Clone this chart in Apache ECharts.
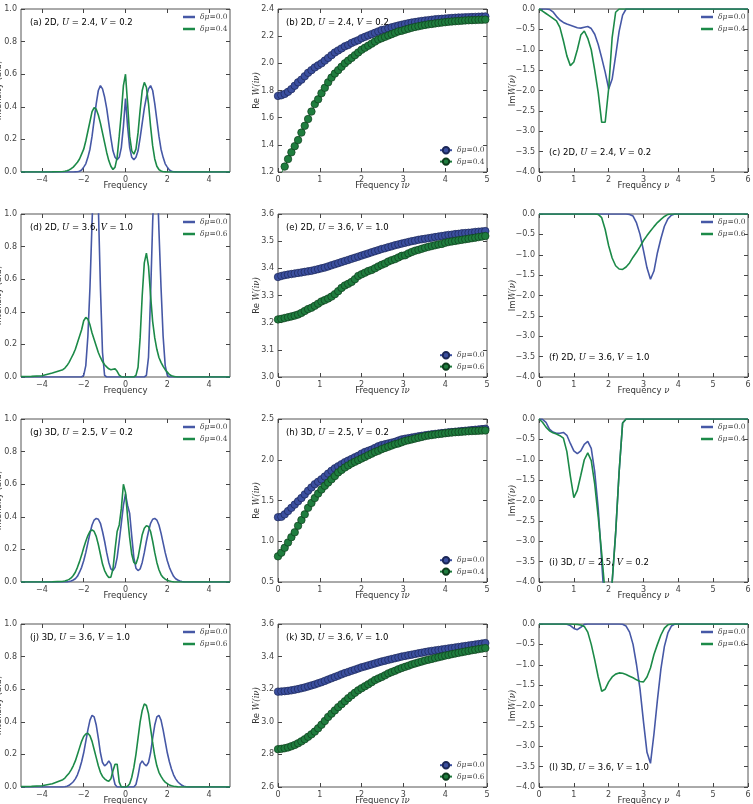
<!DOCTYPE html>
<html>
<head>
<meta charset="utf-8">
<script src="https://cdn.jsdelivr.net/npm/echarts@6/dist/echarts.min.js"></script>
<style>
  html, body { margin: 0; padding: 0; background: #fff; }
  #main { width: 753px; height: 804px; }
</style>
</head>
<body>
<div id="main"></div>
<script>
// ---- sample grids ----
const specX = [-5, -4.5, -4, -3.5,
  -3.0, -2.9, -2.8, -2.7, -2.6, -2.5, -2.4, -2.3, -2.2, -2.1,
  -2.0, -1.9, -1.8, -1.7, -1.6, -1.5, -1.4, -1.3, -1.2, -1.1,
  -1.0, -0.9, -0.8, -0.7, -0.6, -0.5, -0.4, -0.3, -0.2, -0.1,
  0.0, 0.1, 0.2, 0.3, 0.4, 0.5, 0.6, 0.7, 0.8, 0.9,
  1.0, 1.1, 1.2, 1.3, 1.4, 1.5, 1.6, 1.7, 1.8, 1.9,
  2.0, 2.1, 2.2, 2.3, 2.4, 2.5, 2.6, 2.7, 2.8, 2.9,
  3.0,
  3.5, 4, 4.5, 5];
const imX = [0.0, 0.1, 0.2, 0.3, 0.4, 0.5, 0.6, 0.7, 0.8, 0.9,
  1.0, 1.1, 1.2, 1.3, 1.4, 1.5, 1.6, 1.7, 1.8, 1.9,
  2.0, 2.1, 2.2, 2.3, 2.4, 2.5, 2.6, 2.7, 2.8, 2.9,
  3.0, 3.1, 3.2, 3.3, 3.4, 3.5, 3.6, 3.7, 3.8, 3.9,
  4.0,
  4.5, 5, 5.5, 6];
const reX = [0, 0.08, 0.16, 0.24, 0.32, 0.40, 0.48, 0.56, 0.64, 0.72,
  0.80, 0.88, 0.96, 1.04, 1.12, 1.20, 1.28, 1.36, 1.44, 1.52,
  1.60, 1.68, 1.76, 1.84, 1.92, 2.00, 2.08, 2.16, 2.24, 2.32,
  2.40, 2.48, 2.56, 2.64, 2.72, 2.80, 2.88, 2.96, 3.04, 3.12,
  3.20, 3.28, 3.36, 3.44, 3.52, 3.60, 3.68, 3.76, 3.84, 3.92,
  4.00, 4.08, 4.16, 4.24, 4.32, 4.40, 4.48, 4.56, 4.64, 4.72,
  4.80, 4.88, 4.96];

// ---- spectral intensity (a, d, g, j) ----
const dosBlueA = [0, 0, 0, 0,
  0, 0, 0, 0, 0, 0, 0.001, 0.002, 0.005, 0.012,
  0.03, 0.05, 0.09, 0.14, 0.22, 0.32, 0.42, 0.5, 0.53, 0.51,
  0.46, 0.39, 0.3, 0.21, 0.13, 0.09, 0.075, 0.09, 0.15, 0.28,
  0.45, 0.28, 0.15, 0.09, 0.075, 0.09, 0.13, 0.21, 0.3, 0.39,
  0.46, 0.51, 0.53, 0.5, 0.42, 0.32, 0.22, 0.14, 0.09, 0.05,
  0.03, 0.012, 0.005, 0.002, 0.001, 0, 0, 0, 0, 0,
  0,
  0, 0, 0, 0];
const dosGreenA = [0, 0, 0, 0.001,
  0.003, 0.005, 0.008, 0.013, 0.02, 0.03, 0.045, 0.06, 0.08, 0.11,
  0.14, 0.19, 0.25, 0.31, 0.37, 0.395, 0.385, 0.35, 0.3, 0.24,
  0.18, 0.12, 0.07, 0.035, 0.015, 0.03, 0.09, 0.22, 0.36, 0.53,
  0.6, 0.42, 0.22, 0.13, 0.11, 0.14, 0.24, 0.38, 0.5, 0.55,
  0.52, 0.42, 0.28, 0.16, 0.08, 0.035, 0.015, 0.006, 0.002, 0.001,
  0, 0, 0, 0, 0, 0, 0, 0, 0, 0,
  0,
  0, 0, 0, 0];
const dosBlueD = [0, 0, 0, 0,
  0, 0, 0, 0, 0, 0, 0, 0, 0, 0,
  0.01, 0.07, 0.25, 0.55, 0.95, 1.3, 1.3, 1.05, 0.55, 0.15,
  0.01, 0, 0, 0, 0, 0, 0, 0, 0, 0,
  0, 0, 0, 0, 0, 0, 0, 0, 0, 0,
  0.01, 0.12, 0.5, 0.95, 1.3, 1.3, 0.9, 0.55, 0.25, 0.07,
  0.01, 0, 0, 0, 0, 0, 0, 0, 0, 0,
  0,
  0, 0, 0, 0];
const dosGreenD = [0.002, 0.004, 0.008, 0.025,
  0.045, 0.055, 0.07, 0.09, 0.115, 0.14, 0.17, 0.21, 0.25, 0.29,
  0.345, 0.365, 0.355, 0.32, 0.27, 0.23, 0.19, 0.15, 0.12, 0.095,
  0.075, 0.062, 0.05, 0.045, 0.048, 0.05, 0.035, 0.012, 0.002, 0,
  0, 0, 0, 0, 0, 0.01, 0.06, 0.24, 0.5, 0.7,
  0.76, 0.68, 0.5, 0.34, 0.24, 0.17, 0.12, 0.09, 0.065, 0.045,
  0.03, 0.015, 0.008, 0.004, 0.002, 0, 0, 0, 0, 0,
  0,
  0, 0, 0, 0];
const dosBlueG = [0, 0, 0, 0,
  0, 0, 0.001, 0.003, 0.006, 0.012, 0.02, 0.035, 0.06, 0.09,
  0.13, 0.18, 0.24, 0.3, 0.35, 0.38, 0.39, 0.385, 0.36, 0.31,
  0.25, 0.18, 0.12, 0.08, 0.07, 0.09, 0.15, 0.25, 0.36, 0.47,
  0.54, 0.47, 0.42, 0.28, 0.15, 0.085, 0.07, 0.08, 0.12, 0.18,
  0.25, 0.31, 0.36, 0.385, 0.39, 0.38, 0.35, 0.3, 0.24, 0.18,
  0.13, 0.09, 0.06, 0.035, 0.02, 0.012, 0.006, 0.003, 0.001, 0,
  0,
  0, 0, 0, 0];
const dosGreenG = [0, 0, 0, 0.001,
  0.004, 0.006, 0.01, 0.016, 0.025, 0.04, 0.06, 0.09, 0.125, 0.165,
  0.21, 0.25, 0.285, 0.31, 0.32, 0.31, 0.28, 0.23, 0.17, 0.11,
  0.07, 0.045, 0.028, 0.03, 0.08, 0.2, 0.31, 0.35, 0.45, 0.6,
  0.55, 0.4, 0.27, 0.17, 0.12, 0.11, 0.15, 0.22, 0.29, 0.33,
  0.345, 0.34, 0.31, 0.25, 0.18, 0.12, 0.075, 0.045, 0.028, 0.018,
  0.01, 0.006, 0.003, 0.001, 0, 0, 0, 0, 0, 0,
  0,
  0, 0, 0, 0];
const dosBlueJ = [0, 0, 0, 0,
  0, 0.002, 0.005, 0.01, 0.02, 0.032, 0.05, 0.075, 0.11, 0.155,
  0.21, 0.28, 0.35, 0.41, 0.44, 0.43, 0.38, 0.3, 0.21, 0.15,
  0.13, 0.14, 0.16, 0.14, 0.07, 0.015, 0, 0, 0, 0,
  0, 0, 0, 0, 0, 0.015, 0.07, 0.14, 0.16, 0.14,
  0.13, 0.15, 0.21, 0.3, 0.38, 0.43, 0.44, 0.41, 0.35, 0.28,
  0.21, 0.155, 0.11, 0.075, 0.05, 0.032, 0.02, 0.01, 0.005, 0.002,
  0,
  0, 0, 0, 0];
const dosGreenJ = [0.002, 0.004, 0.008, 0.02,
  0.045, 0.055, 0.07, 0.085, 0.105, 0.13, 0.16, 0.2, 0.24, 0.28,
  0.31, 0.325, 0.33, 0.315, 0.28, 0.23, 0.18, 0.13, 0.09, 0.065,
  0.05, 0.04, 0.035, 0.05, 0.1, 0.14, 0.14, 0.03, 0, 0,
  0, 0.005, 0.02, 0.06, 0.12, 0.2, 0.3, 0.4, 0.47, 0.51,
  0.5, 0.45, 0.36, 0.27, 0.19, 0.13, 0.09, 0.065, 0.045, 0.03,
  0.02, 0.013, 0.008, 0.005, 0.003, 0.001, 0, 0, 0, 0,
  0,
  0, 0, 0, 0];

// ---- Re W(i nu) (b, e, h, k) ----
const reBlueB = [1.760, 1.765, 1.775, 1.79, 1.81, 1.835, 1.86, 1.88, 1.905, 1.93,
  1.95, 1.97, 1.985, 2.0, 2.02, 2.04, 2.06, 2.08, 2.095, 2.11,
  2.125, 2.135, 2.15, 2.16, 2.17, 2.185, 2.195, 2.205, 2.215, 2.225,
  2.235, 2.245, 2.25, 2.258, 2.265, 2.272, 2.278, 2.284, 2.29, 2.295,
  2.30, 2.304, 2.308, 2.312, 2.315, 2.318, 2.321, 2.324, 2.326, 2.328,
  2.33, 2.332, 2.334, 2.336, 2.337, 2.338, 2.339, 2.34, 2.341, 2.342,
  2.343, 2.344, 2.345];
const reGreenB = [1.15, 1.19, 1.24, 1.295, 1.345, 1.39, 1.435, 1.49, 1.54, 1.59,
  1.645, 1.70, 1.735, 1.78, 1.82, 1.86, 1.895, 1.925, 1.95, 1.975,
  2.0, 2.02, 2.04, 2.06, 2.08, 2.10, 2.115, 2.13, 2.145, 2.16,
  2.175, 2.185, 2.195, 2.205, 2.215, 2.225, 2.235, 2.24, 2.248, 2.255,
  2.262, 2.268, 2.273, 2.278, 2.283, 2.287, 2.29, 2.294, 2.297, 2.30,
  2.303, 2.306, 2.308, 2.31, 2.312, 2.314, 2.316, 2.317, 2.318, 2.319,
  2.32, 2.321, 2.322];
const reBlueE = [3.368, 3.372, 3.375, 3.377, 3.379, 3.381, 3.383, 3.385, 3.387, 3.389,
  3.391, 3.394, 3.397, 3.40, 3.403, 3.407, 3.411, 3.415, 3.419, 3.423,
  3.427, 3.431, 3.435, 3.439, 3.443, 3.447, 3.451, 3.455, 3.459, 3.463,
  3.467, 3.471, 3.474, 3.478, 3.481, 3.485, 3.488, 3.491, 3.494, 3.497,
  3.50, 3.502, 3.505, 3.507, 3.509, 3.511, 3.513, 3.515, 3.517, 3.519,
  3.521, 3.523, 3.524, 3.526, 3.527, 3.529, 3.53, 3.531, 3.532, 3.534,
  3.535, 3.536, 3.537];
const reGreenE = [3.212, 3.214, 3.217, 3.22, 3.223, 3.226, 3.23, 3.236, 3.243, 3.25,
  3.255, 3.262, 3.27, 3.278, 3.283, 3.289, 3.296, 3.305, 3.316, 3.328,
  3.337, 3.343, 3.35, 3.36, 3.372, 3.378, 3.384, 3.39, 3.394, 3.40,
  3.407, 3.413, 3.418, 3.425, 3.43, 3.434, 3.44, 3.446, 3.448, 3.455,
  3.46, 3.465, 3.468, 3.472, 3.476, 3.479, 3.482, 3.485, 3.488, 3.49,
  3.494, 3.497, 3.499, 3.501, 3.503, 3.505, 3.507, 3.509, 3.511, 3.513,
  3.515, 3.517, 3.519];
const reBlueH = [1.295, 1.30, 1.33, 1.37, 1.41, 1.45, 1.49, 1.53, 1.575, 1.62,
  1.66, 1.70, 1.73, 1.76, 1.795, 1.83, 1.865, 1.895, 1.92, 1.945,
  1.97, 1.99, 2.01, 2.03, 2.05, 2.075, 2.095, 2.11, 2.125, 2.145,
  2.165, 2.18, 2.19, 2.20, 2.21, 2.22, 2.235, 2.25, 2.258, 2.265,
  2.272, 2.28, 2.287, 2.294, 2.30, 2.306, 2.312, 2.317, 2.322, 2.327,
  2.332, 2.336, 2.34, 2.344, 2.348, 2.352, 2.356, 2.36, 2.364, 2.368,
  2.372, 2.376, 2.38];
const reGreenH = [0.815, 0.86, 0.92, 0.985, 1.05, 1.11, 1.19, 1.26, 1.33, 1.41,
  1.47, 1.53, 1.585, 1.635, 1.68, 1.72, 1.76, 1.80, 1.845, 1.875,
  1.905, 1.93, 1.955, 1.975, 1.995, 2.015, 2.035, 2.055, 2.075, 2.095,
  2.11, 2.13, 2.145, 2.16, 2.175, 2.19, 2.20, 2.215, 2.23, 2.24,
  2.25, 2.26, 2.27, 2.28, 2.29, 2.297, 2.303, 2.309, 2.315, 2.32,
  2.325, 2.33, 2.334, 2.338, 2.341, 2.344, 2.347, 2.35, 2.352, 2.354,
  2.356, 2.358, 2.36];
const reBlueK = [3.185, 3.186, 3.188, 3.19, 3.193, 3.197, 3.201, 3.206, 3.211, 3.217,
  3.223, 3.229, 3.236, 3.243, 3.251, 3.259, 3.267, 3.275, 3.283, 3.291,
  3.299, 3.306, 3.313, 3.32, 3.327, 3.334, 3.34, 3.346, 3.352, 3.358,
  3.364, 3.37, 3.375, 3.38, 3.385, 3.39, 3.395, 3.40, 3.404, 3.408,
  3.412, 3.416, 3.42, 3.424, 3.428, 3.432, 3.435, 3.438, 3.441, 3.444,
  3.447, 3.45, 3.453, 3.456, 3.459, 3.462, 3.465, 3.468, 3.471, 3.474,
  3.477, 3.48, 3.483];
const reGreenK = [2.832, 2.834, 2.838, 2.843, 2.85, 2.858, 2.868, 2.88, 2.893, 2.908,
  2.923, 2.94, 2.96, 2.982, 3.005, 3.03, 3.05, 3.07, 3.09, 3.108,
  3.126, 3.145, 3.162, 3.178, 3.193, 3.206, 3.218, 3.23, 3.243, 3.256,
  3.266, 3.275, 3.285, 3.297, 3.305, 3.313, 3.322, 3.33, 3.337, 3.344,
  3.352, 3.358, 3.364, 3.37, 3.376, 3.381, 3.386, 3.391, 3.396, 3.401,
  3.406, 3.41, 3.415, 3.419, 3.423, 3.427, 3.431, 3.435, 3.439, 3.442,
  3.446, 3.449, 3.452];

// ---- Im W(nu) (c, f, i, l) ----
const imBlueC = [0, 0, 0, -0.01, -0.07, -0.18, -0.27, -0.33, -0.37, -0.4,
  -0.43, -0.46, -0.47, -0.45, -0.43, -0.48, -0.62, -0.87, -1.2, -1.55,
  -1.96, -1.72, -1.15, -0.55, -0.15, 0, 0, 0, 0, 0,
  0, 0, 0, 0, 0, 0, 0, 0, 0, 0,
  0,
  0, 0, 0, 0];
const imGreenC = [0, -0.05, -0.11, -0.17, -0.23, -0.29, -0.45, -0.78, -1.15, -1.39,
  -1.3, -1.0, -0.64, -0.54, -0.72, -1.0, -1.5, -2.05, -2.78, -2.78,
  -1.95, -0.7, -0.08, 0, 0, 0, 0, 0, 0, 0,
  0, 0, 0, 0, 0, 0, 0, 0, 0, 0,
  0,
  0, 0, 0, 0];
const imBlueF = [0, 0, 0, 0, 0, 0, 0, 0, 0, 0,
  0, 0, 0, 0, 0, 0, 0, 0, 0, 0,
  0, 0, 0, 0, 0, 0, -0.01, -0.05, -0.22, -0.5,
  -0.9, -1.32, -1.6, -1.4, -0.95, -0.6, -0.3, -0.12, -0.03, 0,
  0,
  0, 0, 0, 0];
const imGreenF = [0, 0, 0, 0, 0, 0, 0, 0, 0, 0,
  0, 0, 0, 0, 0, 0, 0, -0.01, -0.09, -0.38,
  -0.78, -1.08, -1.27, -1.35, -1.36, -1.3, -1.2, -1.06, -0.94, -0.8,
  -0.65, -0.53, -0.42, -0.31, -0.21, -0.13, -0.06, -0.01, 0, 0,
  0,
  0, 0, 0, 0];
const imBlueI = [0, -0.01, -0.08, -0.25, -0.32, -0.35, -0.35, -0.33, -0.4, -0.6,
  -0.78, -0.85, -0.78, -0.62, -0.55, -0.72, -1.3, -2.2, -3.5, -4.8,
  -5.5, -4.0, -2.8, -1.3, -0.1, 0, 0, 0, 0, 0,
  0, 0, 0, 0, 0, 0, 0, 0, 0, 0,
  0,
  0, 0, 0, 0];
const imGreenI = [0, -0.08, -0.2, -0.29, -0.34, -0.37, -0.41, -0.47, -0.8, -1.4,
  -1.93, -1.75, -1.38, -1.0, -0.83, -1.02, -1.6, -2.4, -3.3, -4.3,
  -5.5, -4.0, -2.8, -1.3, -0.1, 0, 0, 0, 0, 0,
  0, 0, 0, 0, 0, 0, 0, 0, 0, 0,
  0,
  0, 0, 0, 0];
const imBlueL = [0, 0, 0, 0, 0, 0, 0, 0, -0.005, -0.04,
  -0.11, -0.14, -0.08, -0.01, 0, 0, 0, 0, 0, 0,
  0, 0, 0, 0, -0.005, -0.05, -0.2, -0.5, -1.0, -1.6,
  -2.4, -3.15, -3.42, -2.7, -1.86, -1.1, -0.55, -0.22, -0.05, 0,
  0,
  0, 0, 0, 0];
const imGreenL = [0, 0, 0, 0, 0, 0, 0, 0, 0, 0,
  -0.005, -0.01, -0.025, -0.06, -0.2, -0.5, -0.88, -1.3, -1.65, -1.6,
  -1.42, -1.3, -1.23, -1.2, -1.21, -1.24, -1.28, -1.32, -1.37, -1.41,
  -1.42, -1.3, -1.08, -0.75, -0.5, -0.27, -0.1, -0.02, 0, 0,
  0,
  0, 0, 0, 0];

// ---- panel texts / axis ranges ----
const panelLetters = [['a', 'b', 'c'], ['d', 'e', 'f'], ['g', 'h', 'i'], ['j', 'k', 'l']];
const rowDim = ['2D', '2D', '3D', '3D'];
const rowU = ['2.4', '3.6', '2.5', '3.6'];
const rowV = ['0.2', '1.0', '0.2', '1.0'];
const rowDmu = ['0.4', '0.6', '0.4', '0.6'];
const reYMin = [1.2, 3.0, 0.5, 2.6];
const reYMax = [2.4, 3.6, 2.5, 3.6];
const reYStep = [0.2, 0.1, 0.5, 0.2];
const specTicks = [-4, -2, 0, 2, 4];

const spectra = [[dosBlueA, dosGreenA], [dosBlueD, dosGreenD], [dosBlueG, dosGreenG], [dosBlueJ, dosGreenJ]];
const reW = [[reBlueB, reGreenB], [reBlueE, reGreenE], [reBlueH, reGreenH], [reBlueK, reGreenK]];
const imW = [[imBlueC, imGreenC], [imBlueF, imGreenF], [imBlueI, imGreenI], [imBlueL, imGreenL]];

const BLUE = '#4658a6', GREEN = '#1c8a48';
const MARK_BLUE = '#3b4f9f', MARK_GREEN = '#1f7d3e';
const colLeft = [21, 278, 539];
const rowTop = [9, 214, 419, 624];
const PW = 209, PH = 163;
const TXT = '#333', AX = '#444';
const SANS = 'DejaVu Sans', SERIF = 'DejaVu Serif';

const minus = s => s.replace('-', '\u2212');
const richTxt = size => ({
  n: { fontFamily: SANS, fontSize: size, color: TXT },
  i: { fontFamily: SERIF, fontStyle: 'italic', fontSize: size, color: TXT }
});

const pairs = (xs, ys) => xs.map((x, i) => [x, ys[i]]);

const chart = echarts.init(document.getElementById('main'));
const grid = [], xAxis = [], yAxis = [], series = [], legend = [], graphic = [];

function addPanel(row, col) {
  const g = row * 3 + col;
  const left = colLeft[col], top = rowTop[row];
  const kind = ['spec', 're', 'im'][col];
  const letter = panelLetters[row][col];
  grid.push({ left: left, top: top, width: PW, height: PH, show: true,
    outerBoundsMode: 'none', containLabel: false,
    borderColor: '#555', borderWidth: 1, backgroundColor: '#fff' });

  // x axes
  let xr, xName;
  if (kind === 'spec') { xr = { min: -5, max: 5 }; xName = 'Frequency'; }
  else if (kind === 're') { xr = { min: 0, max: 5, interval: 1 }; xName = '{n|Frequency }{i|i\u03bd}'; }
  else { xr = { min: 0, max: 6, interval: 1 }; xName = '{n|Frequency }{i|\u03bd}'; }
  const tickBase = { show: true, inside: true, length: 4, lineStyle: { color: AX, width: 1 } };
  const noLine = { show: false, onZero: false };
  const xTick = Object.assign({}, tickBase);
  const xLab = { color: AX, fontSize: 8, fontFamily: SANS, margin: 4,
    formatter: v => minus(String(v)) };
  if (kind === 'spec') { xTick.customValues = specTicks; xLab.customValues = specTicks; }
  xAxis.push(Object.assign({ gridIndex: g, type: 'value', position: 'bottom',
    axisLine: noLine, splitLine: { show: false },
    axisTick: xTick, axisLabel: xLab,
    name: xName, nameLocation: 'middle', nameGap: 9, nameMoveOverlap: false,
    nameTextStyle: { fontFamily: SANS, fontSize: 8.5, color: TXT, rich: richTxt(8.5) } }, xr));
  xAxis.push(Object.assign({ gridIndex: g, type: 'value', position: 'top',
    axisLine: noLine, splitLine: { show: false },
    axisTick: Object.assign({}, xTick), axisLabel: { show: false } }, xr));

  // y axes
  let yr, yName, yGap;
  if (kind === 'spec') { yr = { min: 0, max: 1, interval: 0.2 }; yName = 'Intensity (a.u)'; yGap = 18; }
  else if (kind === 're') { yr = { min: reYMin[row], max: reYMax[row], interval: reYStep[row] }; yName = '{n|Re }{i|W(i\u03bd)}'; yGap = 17; }
  else { yr = { min: -4, max: 0, interval: 0.5 }; yName = '{n|Im}{i|W(\u03bd)}'; yGap = 22; }
  yAxis.push(Object.assign({ gridIndex: g, type: 'value', position: 'left',
    axisLine: noLine, splitLine: { show: false },
    axisTick: Object.assign({}, tickBase),
    axisLabel: { color: AX, fontSize: 8, fontFamily: SANS, margin: 4,
      formatter: v => minus(v.toFixed(1)) },
    name: yName, nameLocation: 'middle', nameGap: yGap, nameMoveOverlap: false,
    nameTextStyle: { fontFamily: SANS, fontSize: 8.5, color: TXT, rich: richTxt(8.5) } }, yr));
  yAxis.push(Object.assign({ gridIndex: g, type: 'value', position: 'right',
    axisLine: noLine, splitLine: { show: false },
    axisTick: Object.assign({}, tickBase), axisLabel: { show: false } }, yr));

  // series
  const names = [letter + ':\u03b4\u03bc=0.0', letter + ':\u03b4\u03bc=' + rowDmu[row]];
  const base = { xAxisIndex: 2 * g, yAxisIndex: 2 * g, animation: false, clip: true };
  if (kind === 're') {
    const cols = [[MARK_BLUE, '#1b2758'], [MARK_GREEN, '#0e3d1d']];
    reW[row].forEach((ys, k) => {
      series.push(Object.assign({ type: 'line', name: names[k], data: pairs(reX, ys),
        symbol: 'circle', symbolSize: 7.5, showSymbol: true,
        lineStyle: { color: cols[k][0], width: 1 },
        itemStyle: { color: cols[k][0], borderColor: cols[k][1], borderWidth: 0.7 } }, base));
    });
  } else {
    const src = kind === 'spec' ? spectra[row] : imW[row];
    const xs = kind === 'spec' ? specX : imX;
    [BLUE, GREEN].forEach((c, k) => {
      series.push(Object.assign({ type: 'line', name: names[k], data: pairs(xs, src[k]),
        symbol: 'none', lineStyle: { color: c, width: 1.6 }, itemStyle: { color: c } }, base));
    });
  }

  // legend
  const isRe = kind === 're';
  const legPos = isRe ? { left: left + 161, top: top + 137 } : { left: left + 162, top: top + 4 };
  legend.push(Object.assign({ data: names.map(n => isRe ? { name: n } : { name: n, icon: 'rect' }),
    orient: 'vertical', itemWidth: 12, itemHeight: isRe ? 8 : 2.5,
    itemGap: isRe ? 3 : 4, padding: 0, selectedMode: false,
    formatter: nm => { const p = nm.split(':')[1].split('='); return '{i|' + p[0] + '}{n|=' + p[1] + '}'; },
    textStyle: { fontSize: 7.5, color: AX, fontFamily: SERIF,
      rich: { i: { fontFamily: SERIF, fontStyle: 'italic', fontSize: 7.5, color: AX },
              n: { fontFamily: SERIF, fontSize: 7.5, color: AX } } } }, legPos));

  // panel annotation
  const labTop = kind === 'im' ? top + 139 : top + 9;
  graphic.push({ type: 'text', left: left + (kind === 'spec' ? 9 : (kind === 're' ? 8 : 10)), top: labTop,
    style: { text: '{n|(' + letter + ') ' + rowDim[row] + ', }{i|U}{n| = ' + rowU[row] + ', }{i|V}{n| = ' + rowV[row] + '}',
      rich: richTxt(8.5) }, z: 10 });
}

for (let r = 0; r < 4; r++) for (let c = 0; c < 3; c++) addPanel(r, c);

chart.setOption({
  backgroundColor: '#fff',
  animation: false,
  grid: grid, xAxis: xAxis, yAxis: yAxis, series: series, legend: legend, graphic: graphic
});
</script>
</body>
</html>
